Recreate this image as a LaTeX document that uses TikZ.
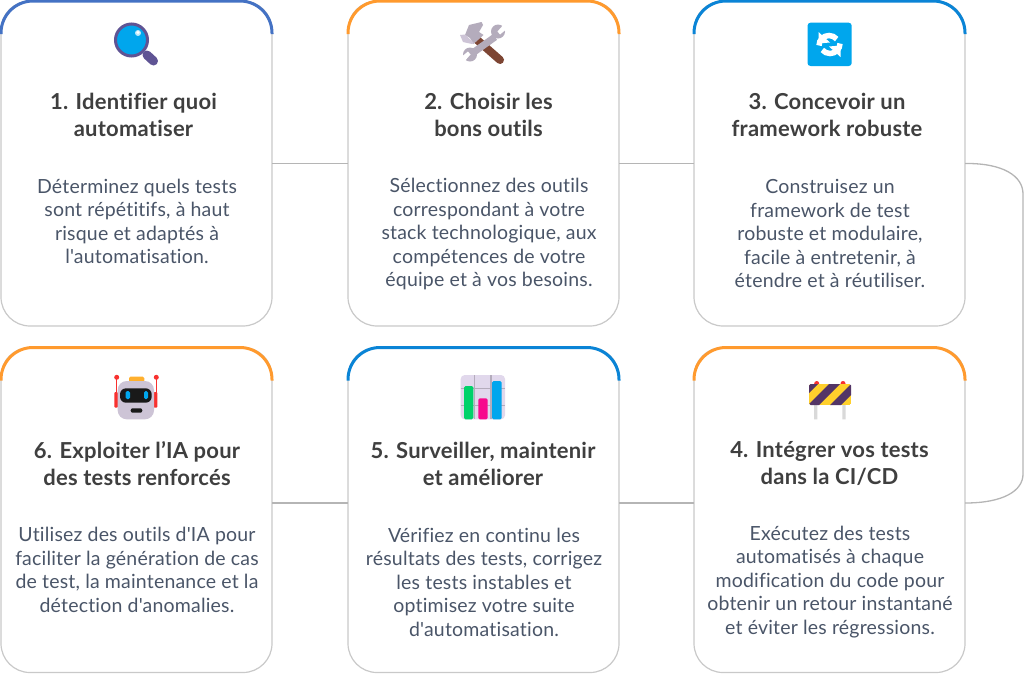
\documentclass[tikz,border=0pt]{standalone}
\usepackage{fontspec}
\setmainfont{Lato}[Ligatures={TeXOff,CommonOff},LetterSpace=1]
\usetikzlibrary{calc}
\definecolor{cardline}{HTML}{C9C9C9}
\definecolor{linkline}{HTML}{B5B5B5}
\definecolor{topblue}{HTML}{4472C4}
\definecolor{toporange}{HTML}{FF9A2E}
\definecolor{topsky}{HTML}{0A84D6}
\definecolor{titletext}{HTML}{3F3F3F}
\definecolor{bodytext}{HTML}{4A5568}
\definecolor{iconblue}{HTML}{00A6ED}
\definecolor{iconpurple}{HTML}{5F5494}
\definecolor{icongrey}{HTML}{B4ACBC}
\definecolor{iconbrown}{HTML}{7D4533}
\definecolor{iconlight}{HTML}{CDC4D6}
\definecolor{iconpale}{HTML}{E1D8EC}
\definecolor{iconred}{HTML}{F8312F}
\definecolor{iconamber}{HTML}{FFB02E}
\definecolor{icongreen}{HTML}{00D26A}
\definecolor{iconpink}{HTML}{F70A8D}
\definecolor{iconyellow}{HTML}{FFD02C}
\definecolor{icondark}{HTML}{533566}
\newcommand{\cardtop}[2]{\draw[line width=3pt,#2,rounded corners=32pt]
    ($(#1.north west)+(0,33)$) |- (#1.north) -| ($(#1.north east)+(0,33)$);}
\begin{document}
\begin{tikzpicture}[x=1pt,y=-1pt,
    card/.style = {draw=cardline,line width=1.2pt,fill=white,rounded corners=29pt,
                   minimum width=271pt,minimum height=325pt,inner sep=0pt,outer sep=0pt},
    title/.style = {anchor=center,align=center,inner sep=0pt,text=titletext,
                    font=\fontsize{22}{27}\selectfont\bfseries},
    body/.style = {anchor=center,align=center,inner sep=0pt,text=bodytext,
                   font=\fontsize{19.5}{23.5}\selectfont},
    link/.style = {draw=linkline,line width=1.3pt}]
    \useasboundingbox (0,0) rectangle (1024,673);

    % cards
    \node[card] (c1) at (136.5,163.5) {};
    \node[card] (c2) at (483.5,163.5) {};
    \node[card] (c3) at (829.5,163.5) {};
    \node[card] (c6) at (136.5,510) {};
    \node[card] (c5) at (483.5,510) {};
    \node[card] (c4) at (829.5,510) {};
    \cardtop{c1}{topblue}
    \cardtop{c2}{toporange}
    \cardtop{c3}{topsky}
    \cardtop{c6}{toporange}
    \cardtop{c5}{topsky}
    \cardtop{c4}{toporange}

    % connectors
    \draw[link] (c1) -- (c2);
    \draw[link] (c2) -- (c3);
    \draw[link] ([yshift=7pt]c6.east) -- ([yshift=7pt]c5.west);
    \draw[link] ([yshift=7pt]c5.east) -- ([yshift=7pt]c4.west);
    \draw[link] (c3.east) .. controls (1003,163) and (1023,176) .. (1023,194) -- (1023,474)
        .. controls (1023,491) and (1003,503) .. ([yshift=7pt]c4.east);

    % titles
    \node[title] (t1) at (133.5,114.5) {1. Identifier quoi\\automatiser};
    \node[title] (t2) at (488.5,114.5) {2. Choisir les\\bons outils};
    \node[title] (t3) at (827,114.5) {3. Concevoir un\\framework robuste};
    \node[title] (t4) at (829.5,463.5) {4. Intégrer vos tests\\dans la CI/CD};
    \node[title] (t5) at (483,463.5) {5. Surveiller, maintenir\\et améliorer};
    \node[title] (t6) at (137,463.5) {6. Exploiter l’IA pour\\des tests renforcés};

    % texts
    \node[body] (b1) at (137,221.5) {Déterminez quels tests\\sont répétitifs, à haut\\risque et adaptés à\\l'automatisation.};
    \node[body] (b2) at (489,234) {Sélectionnez des outils\\correspondant à votre\\stack technologique, aux\\compétences de votre\\équipe et à vos besoins.};
    \node[body] (b3) at (830,233.5) {Construisez un\\framework de test\\robuste et modulaire,\\facile à entretenir, à\\étendre et à réutiliser.};
    \node[body] (b4) at (830,582) {Exécutez des tests\\automatisés à chaque\\modification du code pour\\obtenir un retour instantané\\et éviter les régressions.};
    \node[body] (b5) at (484,582) {Vérifiez en continu les\\résultats des tests, corrigez\\les tests instables et\\optimisez votre suite\\d'automatisation.};
    \node[body] (b6) at (137,570) {Utilisez des outils d'IA pour\\faciliter la génération de cas\\de test, la maintenance et la\\détection d'anomalies.};

    % magnifier
    \draw[iconpurple,line width=9pt,line cap=round] (147,55) -- (153.5,61);
    \filldraw[draw=iconpurple,fill=iconblue,line width=3pt] (131.5,40) circle (16pt);
    \fill[white!75!iconblue] (138,33) circle (3pt);
    \fill[white] (138,32.5) circle (1.6pt);

    % hammer and wrench
    \draw[iconbrown,line width=8pt,line cap=round] (475,38) -- (500,60);
    \fill[icongrey] (469,25) -- (481.5,22) -- (483,25) -- (479,32) -- (483.5,35) -- (473.5,44) -- (470,38) -- (465,35) -- cycle;
    \fill[iconlight] (460,35) -- (465,34.5) -- (474,43) -- (472,44) -- (463,42) -- cycle;
    \draw[icongrey,line width=7pt] (495,37) -- (474,52);
    \fill[icongrey] (498,31.5) circle (7pt);
    \fill[icongrey] (470,54.5) circle (7pt);
    \fill[white] (505,23) -- (497.5,31.5) -- (500,34.5) -- (508,28) -- cycle;
    \fill[white] (463,63) -- (470.5,54.5) -- (468,51.5) -- (460,58) -- cycle;

    % refresh
    \fill[iconblue,rounded corners=3pt] (807.5,22.7) rectangle (851.7,66);
    \draw[white,line width=5.5pt] (840,43.5) arc (0:-140:10pt);
    \fill[white] (818.5,32) -- (818.5,43.5) -- (830,42.5) -- cycle;
    \draw[white,line width=5.5pt] (819,45.5) arc (180:40:10pt);
    \fill[white] (840.5,57) -- (840.5,45.5) -- (829,46.5) -- cycle;

    % robot
    \draw[iconred,line width=1.5pt] (116.7,377) -- (116.7,395) (156.3,377) -- (156.3,395);
    \fill[iconred] (116.7,377.3) circle (2.5pt) (156.3,377.3) circle (2.5pt);
    \fill[iconred,rounded corners=1pt] (114.3,392) rectangle (118,407.7) (153.7,392) rectangle (157.3,407.7);
    \fill[iconamber,rounded corners=1.5pt] (129,376.7) rectangle (144.3,382);
    \fill[iconlight,rounded corners=9pt] (117.7,381) rectangle (154,419.3);
    \fill[black!90,rounded corners=6pt] (120,388.3) rectangle (151.7,402.7);
    \fill[iconblue,rounded corners=1.5pt] (125.7,391) rectangle (130,399) (144,391) rectangle (148,399);
    \fill[black!90,rounded corners=2pt] (130.7,408.3) rectangle (142.3,412.7);

    % chart
    \fill[iconpale,rounded corners=4pt] (460.7,375) rectangle (505,419.3);
    \draw[icongrey,line width=1.5pt] (474.7,375) -- (474.7,419.3) (491,375) -- (491,419.3)
        (460.7,388.5) -- (505,388.5) (460.7,405.7) -- (505,405.7);
    \fill[icongreen,rounded corners=1.5pt] (464,386) rectangle (473.3,419.3);
    \fill[iconpink,rounded corners=1.5pt] (478.3,398.3) rectangle (487.7,419.3);
    \fill[iconblue,rounded corners=1.5pt] (492,381) rectangle (501.7,419.3);

    % barrier
    \fill[black!15] (814,405) rectangle (817.3,419.3) (842.3,405) rectangle (845.7,419.3);
    \fill[iconred] (816.7,383.5) circle (2.5pt) (843,383.5) circle (2.5pt);
    \begin{scope}
        \clip[rounded corners=1.5pt] (809,384) rectangle (851,405);
        \fill[iconyellow] (809,384) rectangle (851,405);
        \foreach \s in {818,840,862}
            \fill[icondark] (\s-11,384) -- (\s,384) -- (\s-21,405) -- (\s-32,405) -- cycle;
    \end{scope}
\end{tikzpicture}
\end{document}
